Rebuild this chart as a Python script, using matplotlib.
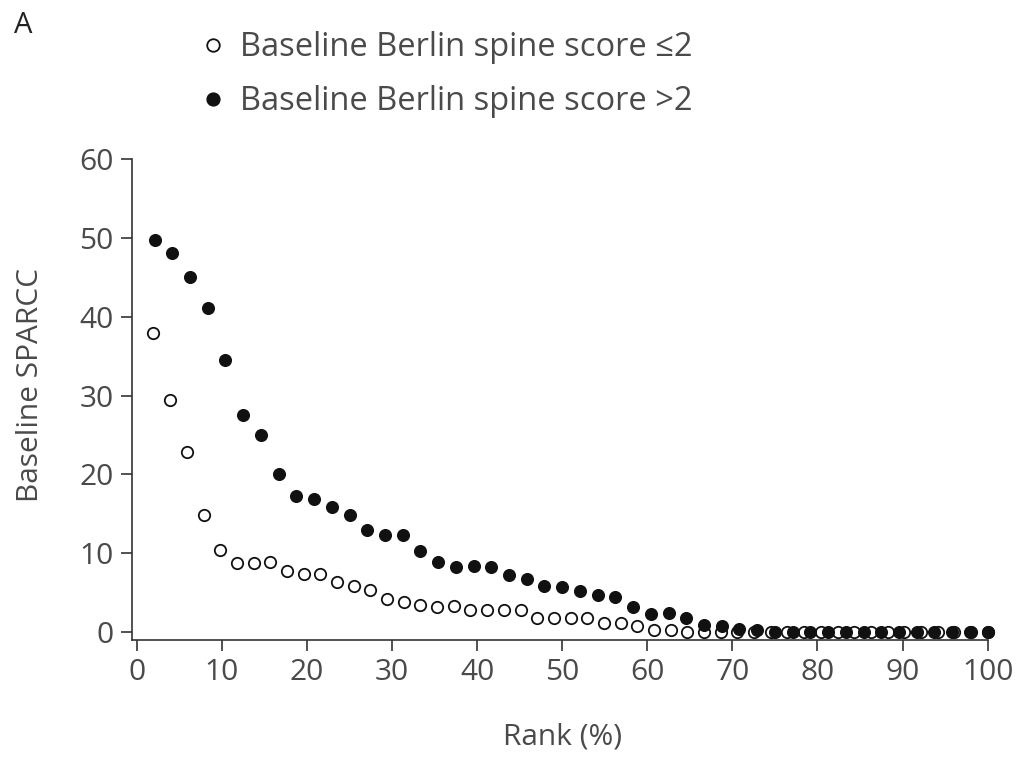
import matplotlib
matplotlib.use("Agg")
import matplotlib.pyplot as plt
import numpy as np

plt.rcParams['font.family'] = ['Open Sans', 'DejaVu Sans']

# Baseline Berlin spine score <=2 (open circles), 51 ranks
low_values = [38.0, 29.5, 22.9, 14.8, 10.4, 8.8, 8.8, 8.9, 7.8, 7.4,
              7.4, 6.3, 5.8, 5.3, 4.2, 3.8, 3.4, 3.2, 3.3, 2.8,
              2.8, 2.8, 2.8, 1.8, 1.8, 1.8, 1.8, 1.2, 1.2, 0.8,
              0.3, 0.3, 0, 0, 0, 0, 0, 0, 0, 0,
              0, 0, 0, 0, 0, 0, 0, 0, 0, 0, 0]
# Baseline Berlin spine score >2 (filled circles), 48 ranks
high_values = [49.7, 48.1, 45.1, 41.1, 34.5, 27.5, 25.0, 20.0, 17.3, 16.9,
               15.9, 14.8, 12.9, 12.3, 12.3, 10.3, 8.9, 8.3, 8.4, 8.3,
               7.3, 6.7, 5.9, 5.7, 5.2, 4.7, 4.4, 3.2, 2.3, 2.4,
               1.8, 0.9, 0.8, 0.4, 0.3, 0, 0, 0, 0, 0,
               0, 0, 0, 0, 0, 0, 0, 0]

low_rank = [100 * (i + 1) / len(low_values) for i in range(len(low_values))]
high_rank = [100 * (i + 1) / len(high_values) for i in range(len(high_values))]

x_ticks = [0, 10, 20, 30, 40, 50, 60, 70, 80, 90, 100]
y_ticks = [0, 10, 20, 30, 40, 50, 60]

label_low = "Baseline Berlin spine score \u22642"
label_high = "Baseline Berlin spine score >2"

text_color = "#4a4a4a"
axis_color = "#333333"

fig = plt.figure(figsize=(10.2, 7.57), dpi=100)
ax = fig.add_axes([0.1291, 0.1546, 0.8392, 0.635])

ax.plot(low_rank, low_values, linestyle='none', marker='o', markersize=8.2,
        markerfacecolor='white', markeredgecolor='#111111', markeredgewidth=1.3,
        clip_on=False, zorder=3, label=label_low)
ax.plot(high_rank, high_values, linestyle='none', marker='o', markersize=8.4,
        markerfacecolor='#111111', markeredgecolor='#111111', markeredgewidth=1.0,
        clip_on=False, zorder=4, label=label_high)

ax.set_xlim(-0.6, 100)
ax.set_ylim(-1.0, 60)
ax.set_xticks(x_ticks)
ax.set_yticks(y_ticks)

for s in ['top', 'right']:
    ax.spines[s].set_visible(False)
for s in ['left', 'bottom']:
    ax.spines[s].set_color(axis_color)
    ax.spines[s].set_linewidth(1.2)

ax.tick_params(axis='both', direction='out', length=8, width=1.2,
               color=axis_color, labelcolor=text_color, labelsize=21.5, pad=5)

ax.set_xlabel("Rank (%)", fontsize=21.5, color=text_color)
ax.set_ylabel("Baseline SPARCC", fontsize=21.5, color=text_color)
ax.xaxis.set_label_coords(0.503, -0.172)
ax.yaxis.set_label_coords(-0.101, 0.53)

leg = fig.legend(loc='upper left', bbox_to_anchor=(0.186, 0.976), frameon=False,
                 fontsize=23.5, handlelength=0.6, handletextpad=0.53,
                 labelspacing=0.65, markerscale=1.1, borderaxespad=0)
for t in leg.get_texts():
    t.set_color(text_color)

fig.text(0.014, 0.985, "A", fontsize=21, color="#222222", va='top', ha='left')

fig.savefig("out.png", dpi=100, facecolor='white')
